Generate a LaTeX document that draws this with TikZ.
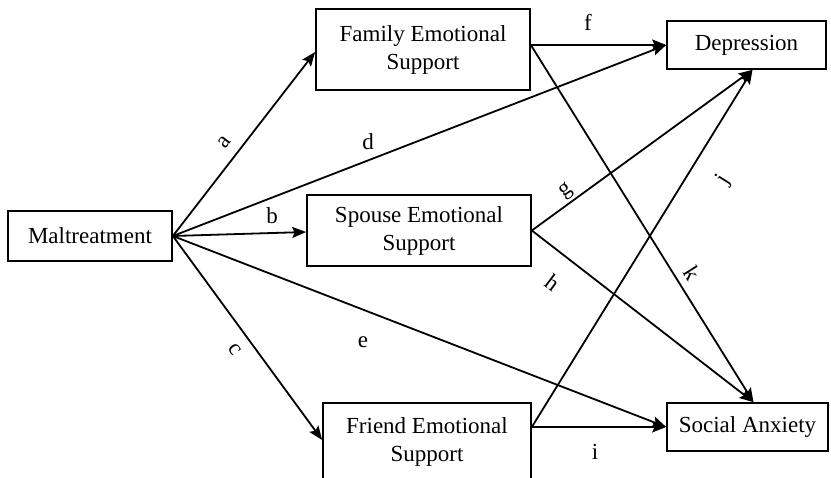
\documentclass[tikz,border=0pt]{standalone}
\usepackage{fontspec}
\setmainfont{Liberation Serif}
\usetikzlibrary{arrows.meta}
\begin{document}
\begin{tikzpicture}[x=1pt,y=-1pt,
  box/.style={draw, line width=1.7pt, align=center, inner sep=0pt, font=\fontsize{23}{28}\selectfont},
  lab/.style={font=\fontsize{23}{28}\selectfont, inner sep=0pt},
  arr/.style={line width=1.8pt, -{Stealth[length=14pt,width=11pt,inset=2.5pt]}}]
\useasboundingbox (0,0) rectangle (831,478);
\node[box, minimum width=164pt, minimum height=50pt] (malt) at (90,236) {Maltreatment};
\node[box, minimum width=214pt, minimum height=81pt] (fam) at (423,49.5) {Family Emotional\\Support};
\node[box, minimum width=159pt, minimum height=48pt] (dep) at (746.5,45) {Depression};
\node[box, minimum width=224pt, minimum height=71pt] (spo) at (419,230.5) {Spouse Emotional\\Support};
\node[box, minimum width=208pt, minimum height=78pt] (fri) at (427,442) {Friend Emotional\\Support};
\node[box, minimum width=161pt, minimum height=48pt] (soc) at (747.5,427) {Social Anxiety};
\coordinate (fe) at ([yshift=4.5pt]fam.east);
\coordinate (fre) at ([yshift=15pt]fri.east);
\draw[arr] (malt.east) -- ([yshift=-2.5pt]fam.west);
\draw[arr] (malt.east) -- ([yshift=-1.5pt]spo.west);
\draw[arr] (malt.east) -- ([yshift=2pt]fri.west);
\draw[arr] (malt.east) -- (dep.west);
\draw[arr] (malt.east) -- (soc.west);
\draw[arr] (fe) -- (dep.west);
\draw[arr] (fe) -- ([xshift=6pt]soc.north);
\draw[arr] (spo.east) -- ([xshift=6pt]dep.south);
\draw[arr] (spo.east) -- ([xshift=6pt]soc.north);
\draw[arr] (fre) -- (soc.west);
\draw[arr] (fre) -- ([xshift=6pt]dep.south);
\node[lab, rotate=52] (la) at (224,142) {a};
\node[lab] (lb) at (272,216) {b};
\node[lab, rotate=-54] (lc) at (235,350) {c};
\node[lab] (ld) at (368,142) {d};
\node[lab] (le) at (363,342) {e};
\node[lab] (lf) at (588,22) {f};
\node[lab, rotate=36] (lg) at (566,191) {g};
\node[lab, rotate=-37] (lh) at (553,283) {h};
\node[lab] (li) at (595,452) {i};
\node[lab, rotate=58] (lj) at (724,180) {j};
\node[lab, rotate=-58] (lk) at (692,273) {k};
\end{tikzpicture}
\end{document}
